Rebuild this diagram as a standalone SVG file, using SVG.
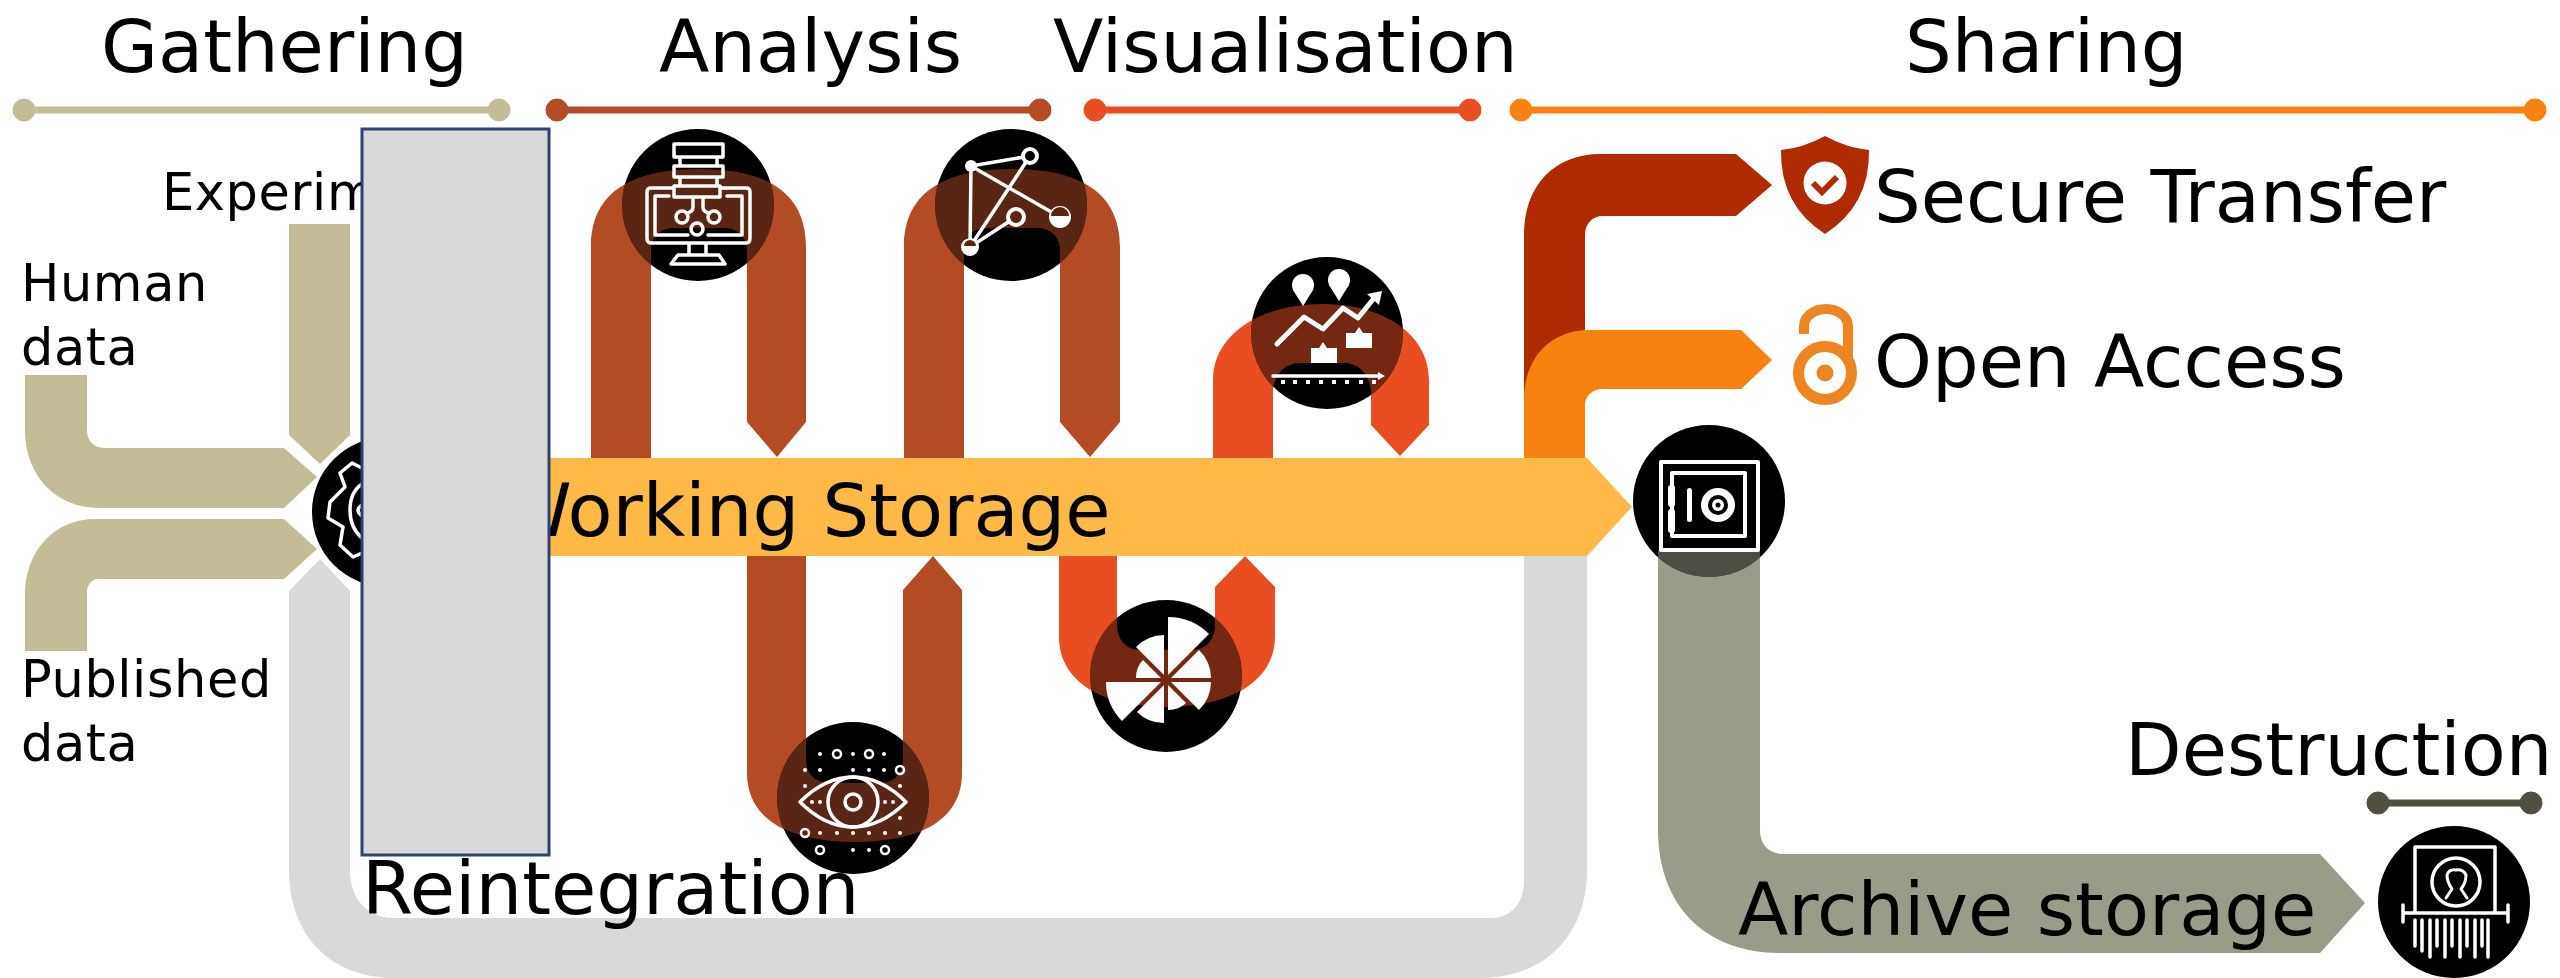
<svg xmlns="http://www.w3.org/2000/svg" width="2560" height="978" viewBox="0 0 2560 978">
<style>
text{font-family:"DejaVu Sans","Liberation Sans",sans-serif;fill:#000}
.h{font-size:73.6px}
.s{font-size:51px;letter-spacing:.6px}
.tan{fill:#C4BC96}.ana{fill:#B34B25}.vis{fill:#E84E22}.org{fill:#F8820F}.sec{fill:#B02A00}.sto{fill:#FFB946}.gry{fill:#D9D9D9}.arc{fill:#9B9B8A}
.ic{fill:none;stroke:#fff;stroke-width:3.5;stroke-linejoin:round;stroke-linecap:round}
.w{fill:#fff}
.ov{opacity:.5}
.ln{stroke-width:7}
</style>
<defs>
<clipPath id="c1"><circle cx="698" cy="205" r="76"/></clipPath>
<clipPath id="c2"><circle cx="1011" cy="205" r="76"/></clipPath>
<clipPath id="c3"><circle cx="853" cy="798" r="76"/></clipPath>
<clipPath id="c4"><circle cx="1166" cy="676" r="76"/></clipPath>
<clipPath id="c5"><circle cx="1327" cy="333" r="76"/></clipPath>
<clipPath id="c6"><circle cx="1709" cy="501" r="76"/></clipPath>
</defs>
<g id="phase-bars">
<g fill="#C4BC96" stroke="#C4BC96"><line class="ln" x1="24" y1="110" x2="499" y2="110"/><circle cx="24" cy="110" r="11"/><circle cx="499" cy="110" r="11"/></g>
<g fill="#B34B25" stroke="#B34B25"><line class="ln" x1="557" y1="110" x2="1040" y2="110"/><circle cx="557" cy="110" r="11"/><circle cx="1040" cy="110" r="11"/></g>
<g fill="#E84E22" stroke="#E84E22"><line class="ln" x1="1095" y1="110" x2="1470" y2="110"/><circle cx="1095" cy="110" r="11"/><circle cx="1470" cy="110" r="11"/></g>
<g fill="#F8820F" stroke="#F8820F"><line class="ln" x1="1521" y1="110" x2="2535" y2="110"/><circle cx="1521" cy="110" r="11"/><circle cx="2535" cy="110" r="11"/></g>
<g fill="#504F40" stroke="#504F40"><line class="ln" x1="2378" y1="803" x2="2531" y2="803"/><circle cx="2378" cy="803" r="11"/><circle cx="2531" cy="803" r="11"/></g>
</g>
<g id="connectors">
<path id="exp" class="tan" d="M289 224H350V435L320 464L289 435Z"/>
<path id="human" class="tan" d="M25 375H87V430C87 442 95 448 105 448H284L317 477L284 508H100C55 508 25 475 25 430Z"/>
<path id="published" class="tan" d="M25 651H87V592C87 585 92 579 98 579H284L317 549L284 519H95C55 519 25 550 25 595Z"/>
<path id="reint" class="gry" d="M320 559L350 591V870C350 900 368 918 395 918H1490C1510 918 1524 905 1524 880V555H1587V870C1587 935 1545 978 1480 978H395C330 978 289 935 289 870V591Z"/>
<path id="a1" class="ana" d="M591 458V247C591 190 635 169 699 169C763 169 806 190 806 247V422L777 457L747 422V250C747 238 738 228 725 228H673C660 228 651 238 651 250V458Z"/>
<path id="a2" class="ana" d="M904 458V247C904 190 948 169 1012 169C1076 169 1120 190 1120 247V422L1090 457L1060 422V250C1060 238 1051 228 1038 228H986C973 228 964 238 964 250V458Z"/>
<path id="a3" class="ana" d="M747 556V773C747 820 790 842 855 842C920 842 962 820 962 773V590L933 556L903 590V760C903 775 892 783 880 783H830C817 783 806 775 806 760V556Z"/>
<path id="v1" class="vis" d="M1059 556V637C1059 680 1100 707 1166 707C1232 707 1275 680 1275 637V587L1245 556L1215 587V625C1215 640 1205 650 1192 650H1140C1127 650 1117 640 1117 625V556Z"/>
<path id="v2" class="vis" d="M1213 458V380C1213 335 1260 304 1322 304C1385 304 1429 335 1429 380V425L1400 456L1371 425V392C1371 375 1358 363 1345 363H1300C1285 363 1273 375 1273 392V458Z"/>
<path id="secure" class="sec" d="M1524 458V235C1524 185 1555 154 1600 154H1736L1772 185L1736 216H1603C1592 216 1585 224 1585 235V458Z"/>
<path id="open" class="org" d="M1524 458V400C1524 358 1550 330 1590 330H1741L1772 360L1741 389H1603C1592 389 1585 396 1585 405V458Z"/>
<path id="storage" class="sto" d="M400 458H1587L1632 507L1587 556H400Z"/>
<path id="archive" class="arc" d="M1658 550H1760V830C1760 845 1769 854 1784 854H2320L2365 903L2320 953H1780C1705 953 1658 905 1658 830Z"/>
</g>
<g id="labels">
<text class="h" x="101" y="72">Gathering</text>
<text class="h" x="659" y="72">Analysis</text>
<text class="h" x="1053" y="72">Visualisation</text>
<text class="h" x="1905" y="72">Sharing</text>
<text class="s" x="162" y="210">Experim</text>
<text class="s" x="21" y="301">Human</text>
<text class="s" x="21" y="365">data</text>
<text class="s" x="21" y="697">Published</text>
<text class="s" x="21" y="761">data</text>
<text class="h" x="499" y="536">Working Storage</text>
<text class="h" x="362" y="914">Reintegration</text>
<text class="h" x="1874" y="222">Secure Transfer</text>
<text class="h" x="1874" y="387">Open Access</text>
<text class="h" x="2125" y="775">Destruction</text>
<text class="h" x="1738" y="935">Archive storage</text>
</g>
<g id="node-gather">
<circle cx="387" cy="512" r="75"/>
<path class="ic" d="M362 468L352 463L340 473L345 487L330 502L328 518L343 527L340 545L353 557L362 553M362 484Q350 492 350 510Q350 528 362 538M362 505Q358 508 358 510Q358 513 362 516"/>
</g>
<g id="node-database">
<circle cx="698" cy="205" r="76"/>
<use href="#a1" class="ov" clip-path="url(#c1)"/>
<path class="ic" d="M674 144H723V157H674ZM674 166H723V177H674ZM674 186H720V197H674ZM680 157V166M717 157V166M680 177V186M717 177V186M674 188H651Q647 188 647 192V238Q647 243 651 243H746Q750 243 750 238V192Q750 188 746 188H720M669 196H655V235H688M727 196H742V235H708M689 243V255M706 243V255M678 255H719L725 264H671ZM693 197V207Q693 212 687 213M703 197V207Q703 212 709 213"/>
<circle class="ic" cx="682" cy="217" r="6"/><circle class="ic" cx="714" cy="217" r="6"/><circle class="ic" cx="697" cy="229" r="6"/>
</g>
<g id="node-network">
<circle cx="1011" cy="205" r="76"/>
<use href="#a2" class="ov" clip-path="url(#c2)"/>
<path class="ic" d="M971 166L1030 156L970 247ZM971 166L1060 217M970 247L1016 217"/>
<circle cx="971" cy="166" r="6" class="w"/><circle cx="1030" cy="156" r="7" fill="#000" stroke="#fff" stroke-width="4"/>
<circle cx="1016" cy="217" r="8" fill="#5A2612" stroke="#fff" stroke-width="4"/>
<circle cx="1060" cy="217" r="11" class="w"/><path d="M1051 216H1069A9 9 0 0 0 1051 216Z" fill="#5A2612"/>
<circle cx="970" cy="247" r="9" class="w"/><path d="M964 246H976A6 6 0 0 0 964 246Z" fill="#5A2612"/>
</g>
<g id="node-eye">
<circle cx="853" cy="798" r="76"/>
<use href="#a3" class="ov" clip-path="url(#c3)"/>
<path class="ic" d="M800 802Q825 777 853 777Q881 777 906 802Q881 827 853 827Q825 827 800 802Z"/>
<circle class="ic" cx="853" cy="802" r="25"/><circle class="ic" cx="853" cy="802" r="8"/>
<g class="w">
<circle cx="820" cy="754" r="2"/><circle cx="853" cy="754" r="2"/><circle cx="884" cy="754" r="2"/>
<circle cx="805" cy="770" r="2"/><circle cx="820" cy="770" r="2"/><circle cx="853" cy="770" r="2"/><circle cx="869" cy="770" r="2"/><circle cx="884" cy="770" r="2"/>
<circle cx="805" cy="786" r="2"/><circle cx="900" cy="786" r="2"/>
<circle cx="812" cy="802" r="2"/><circle cx="820" cy="802" r="2"/><circle cx="885" cy="802" r="2"/><circle cx="893" cy="802" r="2"/>
<circle cx="900" cy="818" r="2"/>
<circle cx="820" cy="833" r="2"/><circle cx="837" cy="833" r="2"/><circle cx="853" cy="833" r="2"/><circle cx="869" cy="833" r="2"/><circle cx="885" cy="833" r="2"/><circle cx="900" cy="833" r="2"/>
<circle cx="853" cy="850" r="2"/><circle cx="869" cy="850" r="2"/>
</g>
<g class="ic" style="stroke-width:2.5">
<circle cx="837" cy="754" r="4"/><circle cx="869" cy="754" r="4"/><circle cx="900" cy="770" r="4"/><circle cx="805" cy="833" r="4"/><circle cx="820" cy="850" r="4"/><circle cx="885" cy="850" r="4"/>
</g>
</g>
<g id="node-pie">
<circle cx="1166" cy="676" r="76"/>
<use href="#v1" class="ov" clip-path="url(#c4)"/>
<g class="w">
<path d="M1168 675V617A58 58 0 0 1 1209 634Z"/>
<path d="M1171 678L1199 650A40 40 0 0 1 1211 678Z"/>
<path d="M1171 682H1211A40 40 0 0 1 1199 710Z"/>
<path d="M1168 685L1186 703A25 25 0 0 1 1168 710Z"/>
<path d="M1164 685V723A38 38 0 0 1 1137 712Z"/>
<path d="M1161 682L1122 721A55 55 0 0 1 1106 682Z"/>
<path d="M1161 678H1136A25 25 0 0 1 1143 660Z"/>
<path d="M1164 675L1136 647A40 40 0 0 1 1164 635Z"/>
</g>
</g>
<g id="node-chart">
<circle cx="1327" cy="333" r="76"/>
<use href="#v2" class="ov" clip-path="url(#c5)"/>
<g class="w">
<circle cx="1303" cy="285" r="11"/><path d="M1293 290L1303 306L1313 290Z"/>
<circle cx="1339" cy="280" r="11"/><path d="M1329 285L1339 301L1349 285Z"/>
<path d="M1311 348H1319L1323 342L1327 348H1337V363H1311Z"/>
<path d="M1346 333H1355L1359 327L1363 333H1372V348H1346Z"/>
<path d="M1382 291L1367 294L1379 305Z"/>
<path d="M1385 376L1378 372V380Z"/>
<rect x="1281" y="380" width="4" height="4"/><rect x="1293" y="380" width="4" height="4"/><rect x="1306" y="380" width="4" height="4"/><rect x="1319" y="380" width="4" height="4"/><rect x="1332" y="380" width="4" height="4"/><rect x="1345" y="380" width="4" height="4"/><rect x="1359" y="380" width="4" height="4"/><rect x="1372" y="380" width="4" height="4"/>
</g>
<path class="ic" style="stroke-width:5" d="M1277 344L1304 317L1323 329L1343 308L1358 318L1375 297"/>
<path class="ic" d="M1273 376H1380"/>
</g>
<g id="node-safe">
<circle cx="1709" cy="501" r="76"/>
<use href="#archive" class="ov" clip-path="url(#c6)"/>
<path class="ic" style="stroke-width:4;stroke-linecap:butt" d="M1661 462H1758V550H1661ZM1672 473H1745V536H1672Z"/>
<g class="w">
<rect x="1668" y="485" width="7" height="22" rx="3"/><rect x="1668" y="509" width="7" height="24" rx="3"/>
<rect x="1687" y="488" width="5" height="34" rx="2.5"/>
<circle cx="1718" cy="505" r="17"/>
</g>
<circle cx="1718" cy="505" r="10" fill="#000"/><circle cx="1718" cy="505" r="6" class="w"/><circle cx="1718" cy="505" r="2.5" fill="#000"/>
</g>
<g id="node-shield">
<path fill="#B02A00" d="M1825 136Q1803 148 1781 150Q1780 205 1825 234Q1870 205 1869 150Q1847 148 1825 136Z"/>
<circle cx="1825" cy="183" r="21.5" class="w"/>
<path d="M1813 183L1822 192L1837 177" fill="none" stroke="#B02A00" stroke-width="6"/>
</g>
<g id="node-lock" fill="none" stroke="#EE8523">
<circle cx="1825" cy="373" r="26.5" stroke-width="11"/>
<circle cx="1825" cy="373" r="8.5" fill="#EE8523" stroke="none"/>
<path stroke-width="10" d="M1804 334V326A22 17 0 0 1 1848 326V358"/>
</g>
<g id="node-shredder">
<circle cx="2454" cy="902" r="76"/>
<path class="ic" d="M2415 912V847H2495V912M2403 913H2508M2403 905V922M2508 905V922"/>
<circle class="ic" cx="2456" cy="882" r="24"/>
<path class="ic" style="stroke-width:3" d="M2446 898L2452 889Q2447 882 2447 875Q2449 869 2456 870Q2463 869 2466 875Q2466 883 2461 889L2467 898"/>
<path class="ic" d="M2415 920V946M2422 920V951M2430 920V957M2437 920V946M2445 920V957M2452 920V946M2460 920V957M2467 920V946M2475 920V957M2482 920V946M2488 920V957"/>
</g>
<rect id="blank-panel" x="362" y="129" width="187" height="726" fill="#D9D9D9" stroke="#2A4470" stroke-width="3"/>
</svg>
